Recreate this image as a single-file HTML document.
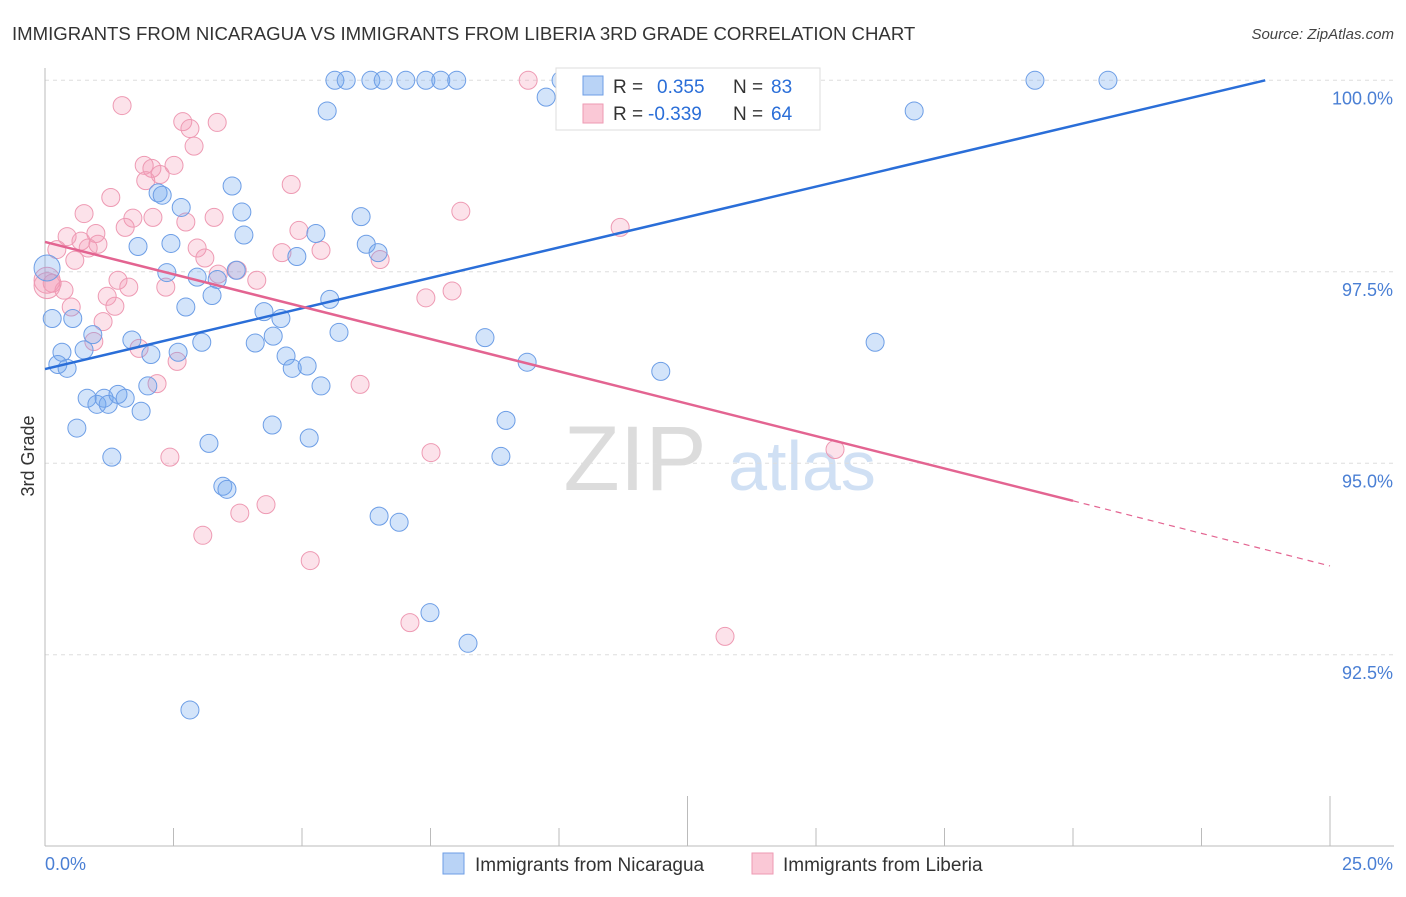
<!DOCTYPE html>
<html><head><meta charset="utf-8"><style>
body{margin:0;background:#fff;font-family:"Liberation Sans",sans-serif}
svg text{font-family:"Liberation Sans",sans-serif}
</style></head><body>
<svg id="chart" width="1406" height="892" xmlns="http://www.w3.org/2000/svg">
<text x="12" y="40" font-size="18.6" fill="#333">IMMIGRANTS FROM NICARAGUA VS IMMIGRANTS FROM LIBERIA 3RD GRADE CORRELATION CHART</text>
<text x="1394" y="39" font-size="15" font-style="italic" fill="#444" text-anchor="end">Source: ZipAtlas.com</text>
<text transform="translate(34,456) rotate(-90)" font-size="18" fill="#333" text-anchor="middle">3rd Grade</text>
<g>
<text x="635" y="490" font-size="92" fill="#dcdcdc" text-anchor="middle" font-family="Liberation Serif">ZIP</text>
<text x="802" y="490" font-size="70" fill="#d0e0f4" text-anchor="middle">atlas</text>
</g>
<g id="grid"></g><g id="axes"></g><g id="pts"></g><g id="lines"></g>
<g>
<rect x="556" y="68" width="264" height="62" fill="#fff" stroke="#ddd"/>
<rect x="583" y="76" width="20" height="19" fill="#b9d3f6" stroke="#6d9ee6"/>
<rect x="583" y="104" width="20" height="19" fill="#fac8d6" stroke="#ee9ab3"/>
<text x="613" y="93" font-size="19" fill="#333">R = </text><text x="657" y="93" font-size="19" fill="#2a6ed8">0.355</text>
<text x="733" y="93" font-size="19" fill="#333">N = </text><text x="771" y="93" font-size="19" fill="#2a6ed8">83</text>
<text x="613" y="120" font-size="19" fill="#333">R = </text><text x="648" y="120" font-size="19" fill="#2a6ed8">-0.339</text>
<text x="733" y="120" font-size="19" fill="#333">N = </text><text x="771" y="120" font-size="19" fill="#2a6ed8">64</text>
</g>
<g>
<rect x="443" y="853" width="21" height="21" fill="#b9d3f6" stroke="#6d9ee6"/>
<text x="475" y="871" font-size="19" fill="#333">Immigrants from Nicaragua</text>
<rect x="752" y="853" width="21" height="21" fill="#fac8d6" stroke="#ee9ab3"/>
<text x="783" y="871" font-size="19" fill="#333">Immigrants from Liberia</text>
</g>
</svg>
<script>
const xTicks=[0,25];
const yTicks=[92.5,95,97.5,100];
const blueX=[5.64,5.86,6.34,6.58,7.02,7.41,7.70,8.01,10.04,19.26,20.68,9.75,5.49,16.91,3.64,2.20,2.28,2.65,3.83,6.15,3.87,5.27,1.81,2.45,6.25,6.48,4.90,2.37,3.72,2.96,3.35,3.25,2.74,5.54,0.14,0.54,4.26,4.59,0.93,5.72,8.56,4.44,3.05,4.09,1.69,16.15,0.76,0.33,2.59,2.06,4.69,0.25,0.43,4.81,5.10,9.38,11.98,5.37,2.00,0.82,1.01,1.15,1.23,1.42,1.56,1.87,0.62,8.97,4.42,5.14,3.19,8.87,1.30,3.46,3.54,6.50,6.89,7.49,8.23,2.82,0.04];
const blueY=[100,100,100,100,100,100,100,100,100,100,100,99.78,99.60,99.60,98.62,98.53,98.50,98.34,98.28,98.22,97.98,98.00,97.83,97.87,97.86,97.75,97.70,97.49,97.52,97.43,97.40,97.19,97.04,97.14,96.89,96.89,96.98,96.89,96.68,96.71,96.64,96.66,96.58,96.57,96.61,96.58,96.48,96.45,96.45,96.42,96.40,96.29,96.24,96.24,96.27,96.32,96.20,96.01,96.01,95.85,95.77,95.85,95.77,95.90,95.85,95.68,95.46,95.56,95.50,95.33,95.26,95.09,95.08,94.70,94.66,94.31,94.23,93.05,92.65,91.78,97.55];
const pinkX=[9.40,1.50,2.68,3.35,2.82,2.90,1.93,2.08,2.51,2.24,1.96,4.79,1.28,0.76,1.71,2.10,3.29,2.74,8.09,11.19,1.56,4.94,0.99,0.43,0.70,1.03,0.84,0.23,5.37,2.96,3.11,4.61,0.58,3.74,6.52,3.37,1.42,4.12,0.04,0.14,1.63,2.35,0.37,1.21,1.36,7.92,7.41,0.51,1.13,0.95,1.83,2.57,2.18,6.13,7.51,2.43,15.37,4.30,3.79,3.07,5.16,7.10,13.23,0.04];
const pinkY=[100,99.67,99.46,99.45,99.37,99.14,98.89,98.85,98.89,98.77,98.69,98.64,98.47,98.26,98.20,98.21,98.21,98.15,98.29,98.08,98.08,98.04,98.00,97.96,97.90,97.86,97.81,97.79,97.78,97.81,97.68,97.75,97.65,97.52,97.66,97.47,97.39,97.39,97.39,97.35,97.30,97.30,97.26,97.18,97.05,97.25,97.16,97.04,96.85,96.59,96.50,96.33,96.04,96.03,95.14,95.08,95.18,94.46,94.35,94.06,93.73,92.92,92.74,97.32];
const blueTrend=[[0,96.23],[23.74,100]];
const pinkTrend=[[0,97.89],[20,94.51]];
const pinkTrendExt=[[20,94.51],[25,93.66]];
const NS="http://www.w3.org/2000/svg";
const X=v=>45+v/25*1285;
const Y=v=>80.3+(100-v)*76.6;
function mk(p,t,a){const e=document.createElementNS(NS,t);for(const k in a)e.setAttribute(k,a[k]);document.getElementById(p).appendChild(e);return e;}
yTicks.forEach(t=>{
 const g=mk('grid','line',{x1:45,x2:1394,y1:Y(t),y2:Y(t),stroke:'#ddd','stroke-dasharray':'4,4'});
 
 
 const l=mk('grid','text',{x:1393,y:Y(t)+24,'font-size':18,fill:'#4a7fd4','text-anchor':'end'});
 l.textContent=t.toFixed(1)+'%';
 
 
});
const ax=mk('axes','line',{x1:45,x2:1394,y1:846,y2:846,stroke:'#bbb'});


const ay=mk('axes','line',{x1:45,x2:45,y1:68,y2:846,stroke:'#bbb'});


for(let i=1;i<=10;i++){const v=i*2.5;const tk=mk('axes','line',{x1:X(v),x2:X(v),y1:(i%5==0?796:828),y2:846,stroke:'#bbb'});
 
 }
xTicks.forEach((t,i)=>{const l=mk('axes','text',{x:i?1393:45,y:870,'font-size':18,fill:'#4a7fd4','text-anchor':i?'end':'start'});
 l.textContent=t.toFixed(1)+'%';
 
 });
function pts(xs,ys,fill,stroke,name){xs.forEach((x,i)=>{const big=(x<0.1);
 const c=mk('pts','circle',{cx:X(x),cy:Y(ys[i]),r:big?13:9,fill:fill,stroke:stroke,'stroke-width':1});
 
 });}
pts(pinkX,pinkY,'rgba(245,150,180,0.28)','#ee9ab3','point-liberia');
pts(blueX,blueY,'rgba(110,165,240,0.3)','#6d9ee6','point-nicaragua');
function ln(d,col,name,dash){const e=mk('lines','line',{x1:X(d[0][0]),y1:Y(d[0][1]),x2:X(d[1][0]),y2:Y(d[1][1]),stroke:col,'stroke-width':dash?1.2:2.5});
 if(dash)e.setAttribute('stroke-dasharray','6,5');
 
 }
ln(blueTrend,'#2a6ed8','trend-nicaragua');
ln(pinkTrend,'#e36491','trend-liberia');
ln(pinkTrendExt,'#e36491','trend-liberia-extension',true);
</script>
</body></html>
